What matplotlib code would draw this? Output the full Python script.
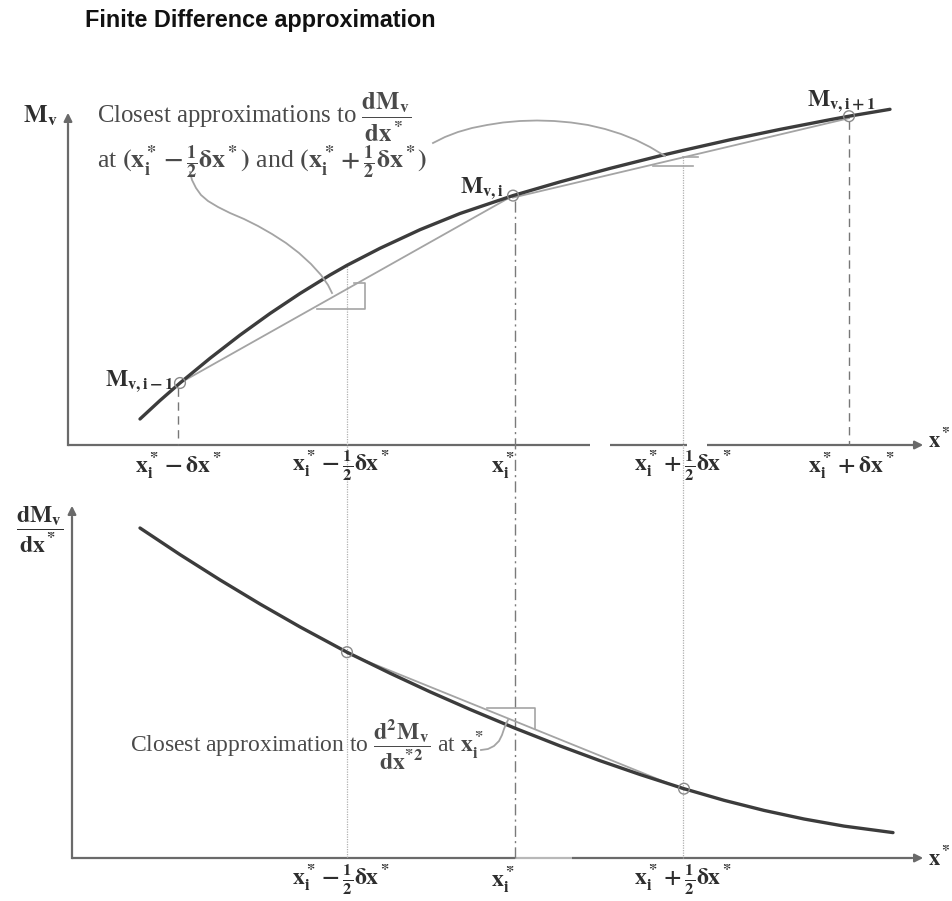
import matplotlib.pyplot as plt

plt.rcParams['font.family'] = ['Liberation Serif', 'DejaVu Serif']
plt.rcParams['mathtext.fontset'] = 'stix'

# grid positions of the nodes along x*
x_nodes = [178, 347, 515, 683, 849]
x_labels = [r'$\mathbf{x_i^* - \delta x^*}$',
            r'$\mathbf{x_i^* - \frac{1}{2}\delta x^*}$',
            r'$\mathbf{x_i^*}$',
            r'$\mathbf{x_i^* + \frac{1}{2}\delta x^*}$',
            r'$\mathbf{x_i^* + \delta x^*}$']
x_label_offsets = [0, -6, -12, 0, 2]

# M_v(x*) curve
top_x = [140, 160, 180, 210, 240, 270, 300, 330, 347, 380, 420, 460, 513,
         560, 610, 660, 683, 730, 780, 830, 849, 890]
top_y = [419, 400.5, 383, 358.3, 335.1, 313.5, 293.5, 275, 265.3, 248.3, 229.7, 213.5, 195.6,
         181.9, 168.4, 155.8, 150.4, 139.8, 129.4, 119.7, 116.2, 109.3]
# dM_v/dx* curve
bot_x = [140, 180, 220, 260, 300, 347, 390, 430, 470, 515, 560, 600, 640,
         684, 724, 764, 804, 844, 893]
bot_y = [528, 554.6, 579.9, 604, 626.9, 652.2, 673.2, 691.8, 709.4, 728.2, 745.9, 760.7, 774.5,
         788.7, 800.3, 810.4, 819, 826.1, 832.6]

# node values on the curves
top_pts_x = [180, 513, 849]
top_pts_y = [383, 195.6, 116.2]
bot_pts_x = [347, 684]
bot_pts_y = [652.2, 788.7]

# leader lines from the notes
lead1_x = [190, 192, 196, 201, 208, 218, 230, 244, 258, 272, 286, 299, 311, 321, 328, 332]
lead1_y = [172, 180, 188, 195, 201, 207, 213, 219, 226, 234, 243, 253, 264, 275, 285, 293]
lead2_x = [433, 445, 458, 472, 487, 503, 520, 537, 554, 571, 588, 605, 621, 636, 650, 665]
lead2_y = [143, 137, 132, 128, 125, 122.5, 121, 120.5, 121, 122.5, 125, 129, 134, 140, 147, 156]
lead3_x = [481, 488, 494, 499, 502, 504, 506, 508]
lead3_y = [750, 749, 746, 741, 735, 729, 724, 720]

dark = '#3c3c3c'
light = '#a4a4a4'
axc = '#6a6a6a'

fig = plt.figure(figsize=(9.53, 9.01), dpi=100)
ax = fig.add_axes([0, 0, 1, 1])
ax.set_xlim(0, 953)
ax.set_ylim(901, 0)
ax.axis('off')

fig.text(85 / 953, 1 - 20 / 901, 'Finite Difference approximation',
         family='Liberation Sans', weight='bold', fontsize=16.8,
         va='center', ha='left', color='#111111')

# axes with arrows
top_axis_segs = [(68, 590), (610, 687), (707, 915)]
for a, b in top_axis_segs:
    ax.plot([a, b], [445, 445], color=axc, lw=1.6, solid_capstyle='butt')
ax.annotate('', xy=(926, 445), xytext=(910, 445),
            arrowprops=dict(arrowstyle='-|>', color=axc, lw=1.6, mutation_scale=12))
ax.plot([68, 68], [445, 125], color=axc, lw=1.6)
ax.annotate('', xy=(68, 110), xytext=(68, 126),
            arrowprops=dict(arrowstyle='-|>', color=axc, lw=1.6, mutation_scale=12))

bot_axis_segs = [(72, 515, axc), (515, 572, '#b8b8b8'), (572, 912, axc)]
for a, b, c in bot_axis_segs:
    ax.plot([a, b], [858, 858], color=c, lw=1.6, solid_capstyle='butt')
ax.annotate('', xy=(926, 858), xytext=(910, 858),
            arrowprops=dict(arrowstyle='-|>', color=axc, lw=1.6, mutation_scale=12))
ax.plot([72, 72], [858, 518], color=axc, lw=1.6)
ax.annotate('', xy=(72, 503), xytext=(72, 519),
            arrowprops=dict(arrowstyle='-|>', color=axc, lw=1.6, mutation_scale=12))

# vertical guides
ax.plot([x_nodes[0]] * 2, [top_pts_y[0] + 5, 445], color='#777777', lw=1, ls=(0, (6, 4)))
ax.plot([x_nodes[1]] * 2, [266, 858], color='#b0b0b0', lw=0.9, ls=(0, (1, 1)))
ax.plot([x_nodes[2]] * 2, [top_pts_y[1] + 5, 858], color='#7a7a7a', lw=1, ls=(0, (8, 3, 1.5, 3)))
ax.plot([x_nodes[3]] * 2, [157, 858], color='#b0b0b0', lw=0.9, ls=(0, (1, 1)))
ax.plot([x_nodes[4]] * 2, [top_pts_y[2] + 5, 445], color='#777777', lw=1, ls=(0, (6, 4)))

# chords between nodes
ax.plot([top_pts_x[0], top_pts_x[1]], [top_pts_y[0], top_pts_y[1]], color=light, lw=1.3)
ax.plot([top_pts_x[1], top_pts_x[2]], [top_pts_y[1] + 2, top_pts_y[2] + 2], color=light, lw=1.3)
ax.plot([bot_pts_x[0], bot_pts_x[1]], [bot_pts_y[0] + 1, bot_pts_y[1] + 1], color=light, lw=1.3)

ax.plot(top_x, top_y, color=dark, lw=2.4, solid_capstyle='round', solid_joinstyle='round')
ax.plot(bot_x, bot_y, color=dark, lw=2.4, solid_capstyle='round', solid_joinstyle='round')

# right angle markers
ax.plot([317, 365, 365, 354], [309, 309, 283, 283], color=light, lw=1.2)
ax.plot([653, 693], [166, 166], color=light, lw=1.2)
ax.plot([683, 698], [157, 157], color=light, lw=1.2)
ax.plot([487, 535, 535], [708, 708, 729], color=light, lw=1.2)

ax.scatter(top_pts_x, top_pts_y, s=60, facecolors='none', edgecolors='#8a8a8a', lw=1, zorder=5)
ax.scatter(bot_pts_x, bot_pts_y, s=60, facecolors='none', edgecolors='#8a8a8a', lw=1, zorder=5)

ax.plot(lead1_x, lead1_y, color=light, lw=1.3)
ax.plot(lead2_x, lead2_y, color=light, lw=1.3)
ax.plot(lead3_x, lead3_y, color=light, lw=1.3)

txt = '#4a4a4a'
lab = '#2e2e2e'

ax.text(97, 122, r'Closest approximations to $\dfrac{\mathbf{dM_v}}{\mathbf{dx^*}}$',
        fontsize=17.8, color=txt, va='baseline', ha='left')
ax.text(97, 169, r'at $\mathbf{(x_i^* - \frac{1}{2}\delta x^*)}$ and $\mathbf{(x_i^* + \frac{1}{2}\delta x^*)}$',
        fontsize=18.6, color=txt, va='baseline', ha='left')
ax.text(130, 752, r'Closest approximation to $\dfrac{\mathbf{d^2M_v}}{\mathbf{dx^{*2}}}$ at $\mathbf{x_i^*}$',
        fontsize=17, color=txt, va='baseline', ha='left')

ax.text(23, 122, r'$\mathbf{M_v}$', fontsize=18, color=lab, va='baseline', ha='left')
ax.text(40, 530, r'$\dfrac{\mathbf{dM_v}}{\mathbf{dx^*}}$', fontsize=17, color=lab, va='center', ha='center')
ax.text(105, 386, r'$\mathbf{M_{v,i-1}}$', fontsize=17, color=lab, va='baseline', ha='left')
ax.text(460, 193, r'$\mathbf{M_{v,i}}$', fontsize=17, color=lab, va='baseline', ha='left')
ax.text(807, 106, r'$\mathbf{M_{v,i+1}}$', fontsize=17, color=lab, va='baseline', ha='left')

for xn, lbl, off in zip(x_nodes, x_labels, x_label_offsets):
    ax.text(xn + off, 466, lbl, fontsize=17, color=lab, va='center', ha='center')
for xn, lbl, off in zip(x_nodes[1:4], x_labels[1:4], x_label_offsets[1:4]):
    ax.text(xn + off, 880, lbl, fontsize=17, color=lab, va='center', ha='center')

ax.text(928, 440, r'$\mathbf{x^*}$', fontsize=16, color=lab, va='center', ha='left')
ax.text(928, 858, r'$\mathbf{x^*}$', fontsize=16, color=lab, va='center', ha='left')

fig.savefig('out.png', dpi=100, facecolor='white')
